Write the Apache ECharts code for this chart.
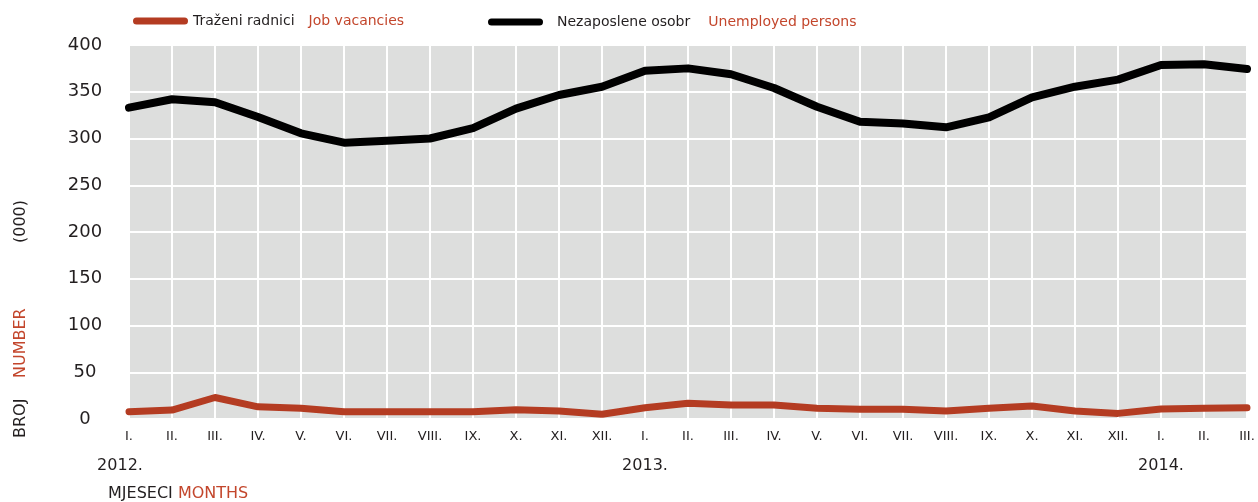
<!DOCTYPE html>
<html>
<head>
<meta charset="utf-8">
<script src="https://cdn.jsdelivr.net/npm/echarts@6/dist/echarts.min.js"></script>
<style>
html,body{margin:0;padding:0;background:#fff;}
#chart{width:1258px;height:502px;}
</style>
</head>
<body>
<div id="chart"></div>
<script>
// Categories: months Jan 2012 – Mar 2014
const months = ['I.','II.','III.','IV.','V.','VI.','VII.','VIII.','IX.','X.','XI.','XII.',
                'I.','II.','III.','IV.','V.','VI.','VII.','VIII.','IX.','X.','XI.','XII.',
                'I.','II.','III.'];
const yearTicks = ['2012.','','','','','','','','','','','',
                   '2013.','','','','','','','','','','','',
                   '2014.','',''];
// Series values (thousands)
const jobVacancies = [7.8,9.6,23,13,11.4,7.8,7.8,7.8,7.8,10,8.5,5,
                      12,16.8,15,15,11.4,10.4,10.4,8.5,11.4,14,8.5,6,
                      10.7,11.4,12];
const unemployed = [333,342,338.7,323,305.5,295.5,297.6,300,311,332,346.5,355.4,
                    372.5,375,368.7,354,334,318,316,312,322.7,344,355.4,363,
                    378.6,379.4,374.3];
const seriesNames = ['Traženi radnici','Nezaposlene osobr'];
const seriesNamesEn = ['Job vacancies','Unemployed persons'];
const yTicks = [0,50,100,150,200,250,300,350,400];

const RED = '#b43c22';
const RED_TEXT = '#c3462c';
const DARK = '#231f20';
const FONT = '"DejaVu Sans", sans-serif';

const chart = echarts.init(document.getElementById('chart'));
const legendIcon = 'path://M3.5,0H51.5A3.5,3.5,0,0,1,51.5,7H3.5A3.5,3.5,0,0,1,3.5,0Z';
function legendCfg(i, left, top, pad, gap) {
  return {
    left: left, top: top, padding: 0, data: [seriesNames[i]], icon: legendIcon,
    itemWidth: 55, itemHeight: 7, selectedMode: false,
    formatter: name => '{a|' + name + '}{b|' + seriesNamesEn[i] + '}',
    textStyle: {
      fontFamily: FONT,
      rich: {
        a: {color: DARK, fontSize: 14, fontFamily: FONT, padding: [0,0,0,pad]},
        b: {color: RED_TEXT, fontSize: 14, fontFamily: FONT, padding: [0,0,0,gap]}
      }
    }
  };
}

chart.setOption({
  animation: false,
  backgroundColor: '#ffffff',
  legend: [legendCfg(0, 133, 14, 0, 14), legendCfg(1, 488, 15, 9, 18)],
  grid: {left: 129, right: 11, top: 45, bottom: 83, show: true,
         backgroundColor: '#dddedd', borderWidth: 0},
  xAxis: [{
    type: 'category', data: months, boundaryGap: false,
    axisLine: {show: false}, axisTick: {show: false},
    axisLabel: {interval: 0, color: DARK, fontFamily: FONT, fontSize: 13, margin: 11},
    splitLine: {show: true, interval: 0, lineStyle: {color: '#ffffff', width: 2}}
  }, {
    type: 'category', data: yearTicks, boundaryGap: false, position: 'bottom', offset: 31,
    axisLine: {show: false}, axisTick: {show: false},
    axisLabel: {interval: 0, color: DARK, fontFamily: FONT, fontSize: 16, margin: 8,
      formatter: (v, i) => i === 0 ? '{f|' + v + '}' : v,
      rich: {f: {color: DARK, fontFamily: FONT, fontSize: 16, padding: [0,18,0,0]}}},
    splitLine: {show: false}
  }],
  yAxis: {
    type: 'value', min: yTicks[0], max: yTicks[yTicks.length-1], interval: 50,
    axisLine: {show: false}, axisTick: {show: false},
    axisLabel: {color: DARK, fontFamily: FONT, fontSize: 18, align: 'center', margin: 44},
    splitLine: {show: true, lineStyle: {color: '#ffffff', width: 2}}
  },
  series: [{
    name: seriesNames[0], type: 'line', data: jobVacancies, xAxisIndex: 0,
    showSymbol: false, symbol: 'none', color: RED,
    lineStyle: {color: RED, width: 7, cap: 'round', join: 'round'}
  }, {
    name: seriesNames[1], type: 'line', data: unemployed, xAxisIndex: 0,
    showSymbol: false, symbol: 'none', color: '#000000',
    lineStyle: {color: '#000000', width: 8, cap: 'round', join: 'round'}
  }],
  graphic: [
    {type: 'text', x: 108, y: 494, style: {
      text: '{a|MJESECI }{b|MONTHS}', textVerticalAlign: 'middle',
      rich: {a: {fill: DARK, fontSize: 16, fontFamily: FONT}, b: {fill: RED_TEXT, fontSize: 16, fontFamily: FONT}}}},
    {type: 'text', x: 21, y: 438, rotation: Math.PI/2, style: {
      text: 'BROJ', fill: DARK, font: '16px ' + FONT, textAlign: 'left', textVerticalAlign: 'middle'}},
    {type: 'text', x: 21, y: 378, rotation: Math.PI/2, style: {
      text: 'NUMBER', fill: RED_TEXT, font: '16px ' + FONT, textAlign: 'left', textVerticalAlign: 'middle'}},
    {type: 'text', x: 21, y: 243, rotation: Math.PI/2, style: {
      text: '(000)', fill: DARK, font: '16px ' + FONT, textAlign: 'left', textVerticalAlign: 'middle'}}
  ]
});
</script>
</body>
</html>
